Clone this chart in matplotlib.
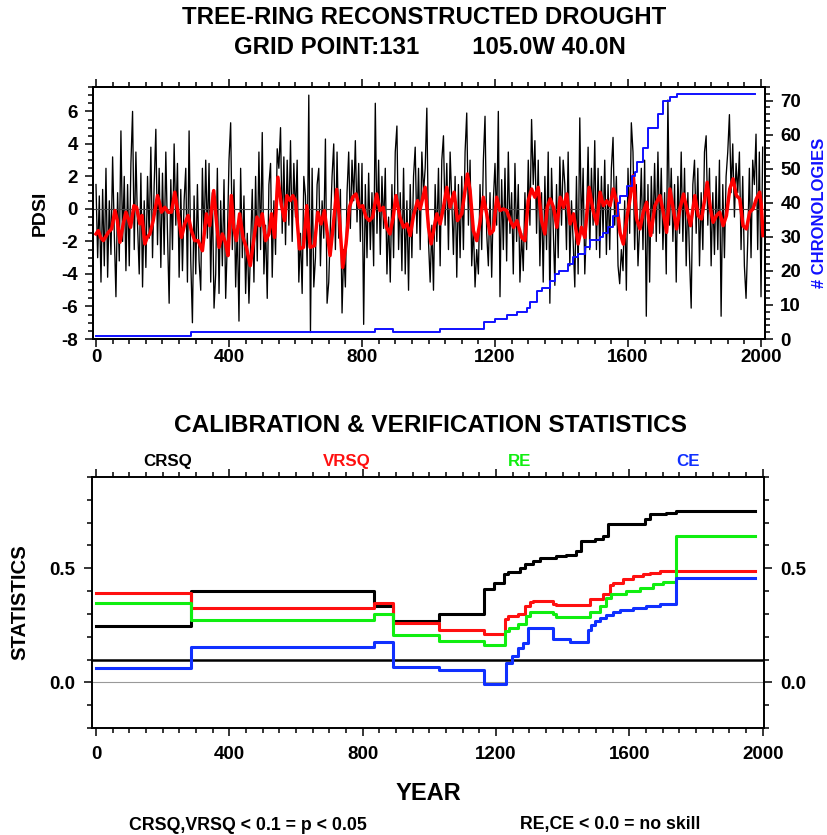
import numpy as np
import matplotlib
matplotlib.use("Agg")
import matplotlib.pyplot as plt
from matplotlib.ticker import MultipleLocator, FixedLocator
from matplotlib import font_manager

names = {f.name for f in font_manager.fontManager.ttflist}
FONT = "Liberation Sans Narrow" if "Liberation Sans Narrow" in names else "Liberation Sans"
NARROW = FONT == "Liberation Sans Narrow"
K = 1.22 if NARROW else 1.0   # size factor if a narrow face is available
plt.rcParams['font.family'] = [FONT, 'DejaVu Sans']
plt.rcParams['font.weight'] = 'bold'
plt.rcParams['axes.unicode_minus'] = False

# ---------------- top panel data ----------------
# annual reconstructed PDSI (read at 5-year spacing), years 0..2005
black_pdsi = [
    1.5, -3.0, 0.8, -4.5, 1.2, -3.5, 2.5, -4.2, 0.5, -2.8, 3.2, -1.5, -5.4, 1.0, -3.2, 4.8, -2.0, 2.0, -3.8, 1.5,
    -3.5, 2.8, 6.0, -2.5, 3.5, -1.0, -4.0, 2.2, -4.8, 0.5, -3.6, 2.0, -1.8, 3.8, -3.0, 1.5, 4.9, -2.2, 2.5, -3.6,
    2.2, -2.8, 3.5, -1.5, -5.8, 1.8, -2.5, 4.0, -1.0, 2.8, -4.2, 1.2, -3.8, 0.5, 2.5, -4.5, 4.8, -3.2, -7.0, 0.8,
    -4.0, 1.5, -3.2, -5.0, 2.5, -2.0, 3.0, -1.8, 2.8, -4.5, 1.0, -6.1, -4.0, 2.5, -5.2, 0.5, -3.5, 1.8, -5.5, -2.0,
    3.0, 5.3, -2.5, 1.8, -4.8, -1.0, -6.9, 2.5, -3.0, 0.8, -5.2, -1.5, -5.8, -2.2, 1.2, -4.5, 2.0, -3.2, 3.5, -2.5,
    4.7, -4.0, -1.0, -5.5, 1.5, 2.8, -4.2, 0.5, -2.8, 3.7, 2.5, 5.0, -1.5, 3.2, -2.2, 3.0, -1.0, 4.2, -2.0, 2.8,
    -0.5, 3.0, -4.5, -1.5, -5.2, 2.0, 0.8, -3.5, 7.0, -7.6, 2.5, -4.8, -3.0, 1.5, 2.5, -3.5, 0.5, -1.8, 4.3, -5.8,
    -4.5, -1.0, 2.0, 4.0, -2.5, 3.5, -1.8, 1.2, -6.4, -2.5, -4.8, 1.0, 3.5, -1.2, 3.0, 0.5, 4.2, -0.8, 2.8, -2.0,
    2.8, -7.1, 1.5, -3.0, 2.2, -2.5, 1.0, -3.5, 6.5, -1.5, 3.0, -2.8, 2.0, -1.2, 2.5, -4.0, -0.5, -4.5, 1.5, -3.0,
    3.5, 5.1, -2.5, 1.0, -3.8, 2.5, -4.0, 0.5, -5.0, 1.5, -3.0, 2.0, 3.8, -1.5, 2.5, -2.5, 3.5, 1.0, 2.5, 6.2,
    -2.0, -4.5, -1.0, -5.0, 1.5, -2.0, 2.5, -3.5, 3.0, 4.5, -1.0, 2.8, -2.5, 3.5, 0.5, -2.8, 2.0, -4.2, 1.5, -3.0,
    2.0, -2.5, 3.5, 5.9, -1.0, 3.0, -3.5, -1.0, -4.8, -2.5, -4.0, 1.5, -2.5, 3.0, 5.7, -1.5, -3.5, 1.0, -4.2, 0.5,
    2.8, -1.0, 6.0, -5.4, 1.8, -2.5, 2.5, -3.2, 3.5, -1.5, 1.0, -4.0, 2.8, -2.0, 1.5, -4.5, -1.5, -3.8, 1.0, -2.5,
    3.0, -1.0, 5.5, 1.5, 4.2, -1.5, 3.0, -3.5, 1.0, -4.5, 2.0, -2.5, 3.5, -5.8, 2.5, -1.0, -4.7, 1.5, -3.0, 3.2,
    -1.0, 3.0, 1.5, -2.5, 3.5, -3.5, 0.5, -2.0, -4.8, 2.0, -4.0, 5.6, -1.5, 2.5, -4.0, -1.0, 3.8, -2.5, 2.5, -1.0,
    4.2, -2.5, 2.5, -3.0, 2.0, -1.5, 3.0, -2.8, 1.5, -2.5, 2.5, 4.4, -1.0, 2.0, -3.5, -4.6, -2.5, -3.8, 0.5, -5.0,
    2.5, -1.5, 5.3, 3.5, -2.5, 1.5, -3.5, -1.0, 2.5, -2.5, 3.0, -6.6, 1.5, -4.5, 2.0, -1.5, 2.8, -2.0, 3.5, -1.5,
    2.5, -2.5, 1.0, -4.0, 6.7, -1.0, 2.5, -2.0, 1.5, -4.5, 2.0, -1.5, 3.5, -2.0, 2.5, -3.5, 1.0, -3.0, -6.1, 1.5,
    3.0, -1.5, 2.5, -3.5, 1.0, -2.5, 3.5, 4.5, -1.0, 2.5, -3.5, 1.0, -2.8, 2.0, -2.5, 3.0, -6.6, 1.5, -3.0, 2.0,
    3.5, 5.8, 1.0, 4.0, -0.5, 2.8, 1.0, 3.5, -2.5, 2.0, -3.5, -5.5, -2.0, 2.5, -3.0, 3.0, 1.5, 4.6, -2.5, 3.5, -5.4, 3.8,
]
black_years = np.arange(0, 5 * len(black_pdsi), 5)

# smoothed PDSI (red)
red_years = [0, 7, 14, 22, 37, 47, 57, 64, 72, 82, 90, 97, 104, 114, 122, 132, 138, 147, 154, 162,
             172, 185, 192, 197, 207, 217, 227, 237, 247, 257, 267, 277, 287, 297, 307, 320, 332, 342, 354, 362,
             370, 380, 389, 397, 407, 414, 422, 432, 442, 452, 464, 474, 484, 492, 500, 510, 520, 528, 537, 547,
             557, 567, 574, 584, 592, 600, 612, 624, 634, 644, 657, 667, 677, 687, 704, 714, 724, 732, 742, 752,
             762, 772, 782, 792, 802, 812, 822, 832, 844, 854, 864, 874, 884, 894, 902, 914, 925, 935, 945, 955,
             967, 975, 990, 1000, 1008, 1017, 1025, 1035, 1045, 1055, 1065, 1077, 1087, 1100, 1110, 1117, 1125, 1135, 1145, 1155,
             1165, 1175, 1185, 1195, 1205, 1215, 1225, 1235, 1246, 1256, 1266, 1280, 1290, 1300, 1310, 1320, 1330, 1340, 1350, 1357,
             1366, 1376, 1386, 1396, 1406, 1416, 1426, 1436, 1450, 1460, 1470, 1483, 1495, 1506, 1516, 1526, 1536, 1546, 1556, 1566,
             1576, 1586, 1596, 1606, 1616, 1626, 1636, 1646, 1656, 1668, 1681, 1696, 1706, 1716, 1726, 1736, 1746, 1756, 1767, 1779,
             1788, 1801, 1811, 1821, 1831, 1838, 1848, 1856, 1866, 1876, 1886, 1896, 1906, 1916, 1926, 1936, 1946, 1956, 1966, 1976,
             1986, 1996, 2001, 2006]
red_pdsi = [-1.54, -1.33, -1.75, -1.95, -1.44, -1.23, -0.1, -0.7, -2.05, -0.92, -0.2, -0.6, -1.13, 0.2, 0.1, -0.92, -0.4, -2.15, -1.75, -1.54,
            -0.72, 0.82, 0.3, -0.2, 0.1, -0.2, -0.2, 1.03, -0.3, -1.75, -0.92, -0.4, -1.33, -1.95, -1.95, -2.57, -0.3, -1.03, 1.13, -0.72,
            -2.36, -1.54, -2.05, -2.87, 0.82, -1.13, -1.95, -0.3, -1.75, -2.36, -3.49, -1.95, -0.5, -1.03, -0.3, -1.95, -1.54, -0.3, -1.75, 1.95,
            0.3, -0.72, 0.82, 0.51, 0.82, 0.51, -2.46, -2.36, 0.2, -2.36, -2.26, -0.2, -0.92, -0.1, -2.87, -0.92, 1.2, -0.5, -3.6, -2.15,
            0.1, 0.72, 0.92, 0.1, 0.2, -0.5, -0.72, -0.5, 0.92, -0.1, 0.1, -1.13, -1.54, -0.5, 0.82, -0.5, -1.13, -0.92, -1.64, -0.4,
            0.51, 0.0, 1.33, -1.13, -2.15, -1.13, -0.3, -0.92, 0.1, 1.33, 0.1, 1.03, -0.72, -0.3, 1.13, 2.15, 1.13, -1.33, -1.95, -0.82,
            0.72, -0.3, -1.54, -1.33, 0.72, -0.1, 0.0, -0.1, -0.72, -1.13, -0.72, -1.75, -1.95, 0.51, 1.23, 0.72, 1.33, -0.72, -1.54, 0.1,
            0.62, 0.1, -1.13, 0.72, 0.1, 0.92, -0.92, -0.3, -2.15, -1.13, -1.75, 1.33, -0.1, -0.92, 1.03, 0.2, 0.5, 0.2, 1.23, 0.41,
            -1.44, -2.16, -0.62, 0.62, 2.05, -0.62, -1.23, -0.2, 0.41, -1.64, 0.2, 0.82, -0.2, -1.44, 1.23, 0.0, -1.23, 0.0, 0.92, -0.2,
            -1.03, 0.82, -0.41, -0.62, 0.62, 1.64, 0.0, -0.82, -0.41, -0.2, -1.03, -0.41, 1.23, 1.85, 0.82, 0.62, -1.03, -1.23, -0.2, 0.0,
            0.62, 1.03, 0.2, -1.64]

# number of chronologies (blue, right axis)
chron_years = [0, 285, 838, 893, 1035, 1168, 1200, 1235, 1265, 1295, 1305, 1325, 1340, 1366, 1381, 1391, 1421, 1436,
               1451, 1471, 1486, 1516, 1526, 1541, 1556, 1571, 1576, 1596, 1611, 1621, 1626, 1646, 1661, 1691,
               1706, 1726, 1746, 1982]
chron_count = [1, 2, 3, 2, 3, 5, 6, 7, 8, 9, 11, 14, 15, 17, 19, 20, 22, 24,
               25, 27, 29, 30, 31, 33, 36, 40, 42, 45, 48, 49, 52, 56, 62, 66,
               70, 71, 72, 72]

# ---------------- bottom panel data ----------------
crsq_years = [0, 285, 835, 890, 1030, 1165, 1195, 1224, 1237, 1271, 1286, 1311, 1331, 1381, 1411, 1441, 1456,
              1496, 1521, 1536, 1646, 1661, 1711, 1741, 1977]
crsq = [0.247, 0.400, 0.334, 0.269, 0.298, 0.410, 0.437, 0.474, 0.484, 0.503, 0.518, 0.532, 0.547, 0.554, 0.560,
        0.576, 0.620, 0.627, 0.642, 0.695, 0.715, 0.737, 0.744, 0.751, 0.751]
vrsq_years = [0, 285, 835, 890, 1030, 1165, 1227, 1237, 1267, 1286, 1301, 1311, 1371, 1381, 1481, 1521, 1541,
              1551, 1581, 1611, 1641, 1661, 1691, 1977]
vrsq = [0.392, 0.327, 0.349, 0.259, 0.228, 0.210, 0.276, 0.291, 0.298, 0.335, 0.350, 0.357, 0.345, 0.338, 0.364,
        0.386, 0.425, 0.437, 0.452, 0.464, 0.474, 0.481, 0.489, 0.489]
re_years = [0, 285, 835, 890, 1030, 1165, 1227, 1240, 1267, 1290, 1301, 1371, 1381, 1481, 1511, 1531, 1546,
            1591, 1631, 1671, 1701, 1740, 1977]
re = [0.346, 0.273, 0.298, 0.208, 0.181, 0.164, 0.225, 0.240, 0.254, 0.291, 0.308, 0.298, 0.288, 0.308, 0.335,
      0.371, 0.386, 0.400, 0.415, 0.430, 0.440, 0.642, 0.642]
ce_years = [0, 285, 835, 890, 1030, 1165, 1230, 1247, 1267, 1282, 1295, 1371, 1421, 1476, 1486, 1496, 1511,
            1531, 1551, 1571, 1611, 1651, 1691, 1740, 1977]
ce = [0.061, 0.156, 0.179, 0.068, 0.052, -0.006, 0.086, 0.115, 0.152, 0.174, 0.240, 0.190, 0.176, 0.230, 0.250,
      0.269, 0.283, 0.295, 0.310, 0.318, 0.327, 0.335, 0.342, 0.458, 0.458]

year_ticks = [0, 400, 800, 1200, 1600, 2000]
stat_labels = ["CRSQ", "VRSQ", "RE", "CE"]

# ---------------- figure ----------------
W, H = 828, 835
fig = plt.figure(figsize=(W / 100, H / 100), dpi=100)


def fx(px):
    return px / W


def fy(py):
    return 1 - py / H


TL = 13.5 * K  # tick label size


def style_axis(ax):
    for s in ax.spines.values():
        s.set_linewidth(1.4)
    ax.tick_params(which='both', direction='out', width=1.1, labelsize=TL)
    ax.tick_params(which='major', length=6)
    ax.tick_params(which='minor', length=3.5)


# top panel
ax1 = fig.add_axes([fx(93), fy(339), fx(672), 252 / H])
ax1.plot(black_years, black_pdsi, color='black', lw=0.95)
ax1.axhline(0, color='#444444', lw=0.8)
ax1.plot(red_years, red_pdsi, color='#ff0000', lw=2.5, solid_joinstyle='round')
ax1.set_xlim(-9, 2012)
ax1.set_ylim(-8, 7.5)
ax1.xaxis.set_major_locator(FixedLocator(year_ticks))
ax1.xaxis.set_minor_locator(MultipleLocator(50))
ax1.yaxis.set_major_locator(MultipleLocator(2))
ax1.yaxis.set_minor_locator(MultipleLocator(0.5))
style_axis(ax1)
ax1.tick_params(axis='x', which='both', top=True, pad=1.5)
ax1.tick_params(axis='y', which='both', right=False, pad=5)
ax1.set_ylabel("PDSI", fontsize=14 * K, fontweight='bold', labelpad=9)

ax1r = ax1.twinx()
ax1r.step(chron_years, chron_count, where='post', color='#1010ff', lw=1.4)
ax1r.set_ylim(0, 74)
ax1r.yaxis.set_major_locator(MultipleLocator(10))
ax1r.yaxis.set_minor_locator(MultipleLocator(2))
style_axis(ax1r)
ax1r.tick_params(axis='y', which='both', pad=5)
ax1r.set_ylabel("# CHRONOLOGIES", fontsize=12 * K, fontweight='bold', color='#1010ff', labelpad=8)

# bottom panel
ax2 = fig.add_axes([fx(92), fy(728), fx(672), 251 / H])
ax2.axhline(0.0, color='#999999', lw=0.8)
ax2.axhline(0.1, color='black', lw=1.8)
ax2.step(crsq_years, crsq, where='post', color='black', lw=2.2)
ax2.step(vrsq_years, vrsq, where='post', color='#ff1010', lw=2.2)
ax2.step(re_years, re, where='post', color='#10ee10', lw=2.2)
ax2.step(ce_years, ce, where='post', color='#1030ff', lw=2.2)
ax2.set_xlim(-12, 2004)
ax2.set_ylim(-0.2, 0.9)
ax2.xaxis.set_major_locator(FixedLocator(year_ticks))
ax2.xaxis.set_minor_locator(MultipleLocator(50))
ax2.yaxis.set_major_locator(FixedLocator([0.0, 0.5]))
ax2.yaxis.set_minor_locator(MultipleLocator(0.1))
ax2.yaxis.set_major_formatter(plt.FuncFormatter(lambda v, p: f"{v:.1f}"))
style_axis(ax2)
ax2.tick_params(axis='x', which='both', top=True, pad=7)
ax2.tick_params(axis='y', which='both', right=True, labelright=True, pad=6)
ax2.set_ylabel("STATISTICS", fontsize=14.7 * K, fontweight='bold', labelpad=14)
ax2.set_xlabel("YEAR", fontsize=17 * K, fontweight='bold', labelpad=14)

# titles and annotations
TS = 17.3 * K
fig.text(fx(424), fy(18), "TREE-RING RECONSTRUCTED DROUGHT", ha='center', va='center',
         fontsize=TS, fontweight='bold')
fig.text(fx(430), fy(47), "GRID POINT:131        105.0W 40.0N", ha='center', va='center',
         fontsize=TS, fontweight='bold')
fig.text(fx(431), fy(425), "CALIBRATION & VERIFICATION STATISTICS", ha='center', va='center',
         fontsize=17.6 * K, fontweight='bold')
stat_colors = ['black', '#ff1010', '#10ee10', '#1030ff']
stat_x = [168, 347, 520, 688]
for lab, col, xp in zip(stat_labels, stat_colors, stat_x):
    fig.text(fx(xp), fy(461), lab, ha='center', va='center', fontsize=12.2 * K, fontweight='bold', color=col)
fig.text(fx(248), fy(825), "CRSQ,VRSQ < 0.1 = p < 0.05", ha='center', va='center',
         fontsize=12.8 * K, fontweight='bold')
fig.text(fx(610), fy(825), "RE,CE < 0.0 = no skill", ha='center', va='center',
         fontsize=12.8 * K, fontweight='bold')

fig.savefig("out.png", dpi=100)
